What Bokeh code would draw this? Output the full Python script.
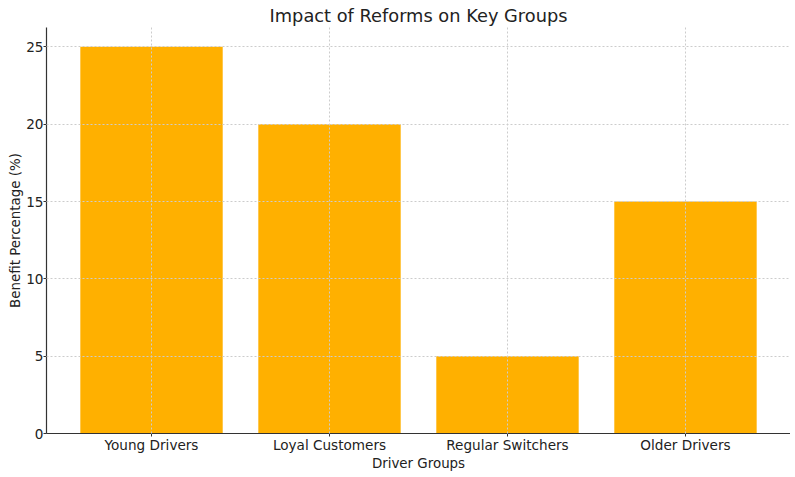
from bokeh.plotting import figure
from bokeh.models import FixedTicker, Range1d, ColumnDataSource
from bokeh.embed import file_html
from bokeh.resources import INLINE

categories = ["Young Drivers", "Loyal Customers", "Regular Switchers", "Older Drivers"]
benefits = [25, 20, 5, 15]
y_ticks = [0, 5, 10, 15, 20, 25]

xs = list(range(len(categories)))
src = ColumnDataSource(dict(x=xs, top=benefits))

p = figure(width=790, height=473, output_backend="svg", toolbar_location=None,
           x_range=Range1d(-0.59, len(categories) - 1 + 0.59),
           y_range=Range1d(0, max(benefits) * 1.05),
           min_border_left=46, min_border_right=0, min_border_top=25, min_border_bottom=0)

p.vbar(x="x", top="top", width=0.8, source=src, color="#FFB000", line_color=None)

p.title.text = "Impact of Reforms on Key Groups"
p.title.align = "center"
p.title.text_font = "DejaVu Sans"
p.title.text_font_size = "17.8px"
p.title.text_font_style = "normal"
p.title.text_color = "#222222"
p.title.standoff = 4

p.xaxis.ticker = FixedTicker(ticks=xs)
p.xaxis.major_label_overrides = {i: c for i, c in enumerate(categories)}
p.yaxis.ticker = FixedTicker(ticks=y_ticks)
p.xaxis.axis_label = "Driver Groups"
p.yaxis.axis_label = "Benefit Percentage (%)"

for ax in (p.xaxis[0], p.yaxis[0]):
    ax.axis_label_text_font = "DejaVu Sans"
    ax.axis_label_text_font_size = "13.4px"
    ax.axis_label_text_font_style = "normal"
    ax.axis_label_text_color = "#222222"
    ax.axis_label_standoff = 0
    ax.major_label_text_font = "DejaVu Sans"
    ax.major_label_text_font_size = "13.6px"
    ax.major_label_text_color = "#222222"
    ax.major_label_standoff = 0
    ax.axis_line_color = "#333333"
    ax.axis_line_width = 1.2
    ax.major_tick_line_color = "#333333"
    ax.major_tick_out = 3
    ax.major_tick_in = 0
    ax.minor_tick_line_color = None

for g in (p.xgrid[0], p.ygrid[0]):
    g.grid_line_color = "#cccccc"
    g.grid_line_dash = "2 2"
    g.grid_line_width = 1
    g.level = "overlay"

p.outline_line_color = None

open("out.html", "w").write(file_html(p, INLINE))
